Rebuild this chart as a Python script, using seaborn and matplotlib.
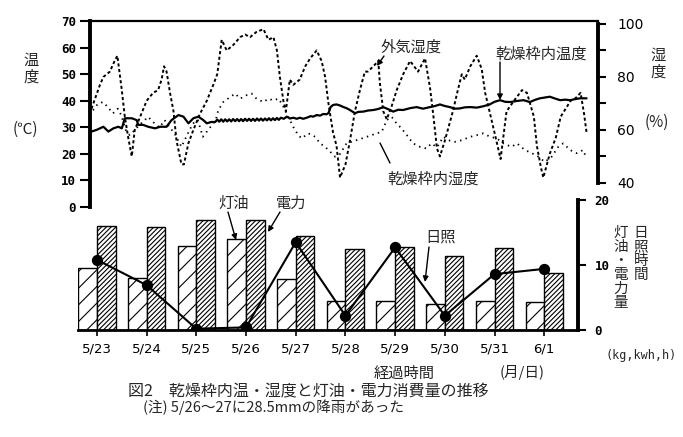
import matplotlib
matplotlib.use("Agg")
import matplotlib.pyplot as plt
import pandas as pd
import seaborn as sns

# ---------------- data ----------------
dates = ['5/23', '5/24', '5/25', '5/26', '5/27', '5/28', '5/29', '5/30', '5/31', '6/1']
kerosene = [9.6, 8.0, 12.9, 14.0, 7.8, 4.4, 4.4, 4.0, 4.4, 4.3]       # 灯油 (kg)
electric = [16.0, 15.9, 16.9, 16.9, 14.5, 12.4, 12.7, 11.4, 12.6, 8.8]  # 電力 (kWh)
sunshine = [10.8, 6.9, 0.2, 0.4, 13.5, 2.2, 12.7, 2.2, 8.6, 9.4]        # 日照 (h)

# outside humidity (%) ; time in days from 5/23
out_hum_day = [-0.11, 0.06, 0.13, 0.26, 0.33, 0.41, 0.50, 0.56, 0.63, 0.70, 0.76, 0.87, 1.00, 1.13, 1.23,
               1.30, 1.35, 1.40, 1.47, 1.54, 1.60, 1.70, 1.75, 1.84, 1.94, 2.07, 2.21, 2.34, 2.42, 2.51,
               2.61, 2.74, 2.88, 2.98, 3.08, 3.21, 3.35, 3.45, 3.55, 3.62, 3.68, 3.75, 3.80, 3.88, 3.95,
               4.08, 4.19, 4.29, 4.42, 4.52, 4.59, 4.65, 4.69, 4.75, 4.82, 4.89, 5.00, 5.09, 5.19, 5.29,
               5.39, 5.45, 5.56, 5.66, 5.69, 5.76, 5.83, 5.93, 6.03, 6.16, 6.30, 6.46, 6.60, 6.70, 6.77,
               6.84, 6.90, 7.00, 7.16, 7.26, 7.34, 7.40, 7.51, 7.64, 7.74, 7.81, 7.91, 8.01, 8.12, 8.24,
               8.39, 8.55, 8.65, 8.79, 8.85, 8.93, 8.98, 9.11, 9.23, 9.33, 9.43, 9.53, 9.63, 9.73, 9.80,
               9.85]
out_hum = [68, 77, 80, 82, 85, 88, 75, 65, 57, 50, 60, 65, 71, 74, 75,
           79, 84, 82, 74, 67, 56, 47, 47, 55, 60, 66, 71, 77, 81, 94,
           90, 92, 95, 96, 95, 97, 98, 94, 95, 90, 80, 71, 67, 79, 77,
           79, 84, 87, 90, 86, 80, 71, 66, 59, 54, 42, 47, 56, 67, 75,
           82, 82, 84, 86, 78, 67, 64, 69, 75, 81, 86, 82, 87, 76, 65,
           53, 50, 56, 67, 75, 81, 79, 84, 88, 83, 74, 66, 58, 49, 67,
           71, 75, 74, 65, 54, 46, 42, 51, 57, 65, 68, 71, 72, 74, 66,
           59]

# temperature inside the drying frame (°C)
in_temp_day = [-0.11, -0.01, 0.13, 0.23, 0.33, 0.43, 0.50, 0.56, 0.70, 0.80, 0.83, 0.93, 1.03, 1.17, 1.27,
               1.40, 1.50, 1.64, 1.74, 1.84, 1.94, 2.04, 2.14, 2.21, 2.30,
               2.38, 2.42, 2.46, 2.50, 2.54, 2.58, 2.62, 2.66, 2.70, 2.74, 2.78, 2.82, 2.86, 2.90, 2.94,
               2.98, 3.02, 3.06, 3.10, 3.14, 3.18, 3.22, 3.26, 3.30, 3.34, 3.38, 3.42, 3.46, 3.50, 3.54,
               3.58, 3.62, 3.66, 3.70,
               3.76, 3.82, 3.88, 3.95, 4.02, 4.08, 4.15, 4.22, 4.30, 4.35, 4.42, 4.49, 4.55, 4.62, 4.66,
               4.70, 4.75, 4.82, 4.89, 4.96, 5.02, 5.09, 5.19, 5.26, 5.36, 5.45, 5.56, 5.66, 5.76, 5.86,
               5.96, 6.06, 6.16, 6.30, 6.43, 6.56, 6.70, 6.80, 6.90, 7.00, 7.10, 7.20, 7.30, 7.40, 7.51,
               7.64, 7.77, 7.90, 8.00, 8.11, 8.21, 8.31, 8.45, 8.58, 8.71, 8.81, 8.91, 9.01, 9.11, 9.22,
               9.32, 9.42, 9.52, 9.62, 9.72, 9.85]
in_temp = [28.4, 29.0, 30.2, 28.4, 29.6, 30.2, 29.6, 33.4, 33.4, 32.7, 30.9, 30.9, 30.2, 29.6, 30.2,
           30.2, 32.7, 34.6, 34.0, 31.5, 33.4, 34.0, 32.7, 31.5, 32.0,
           32.0, 32.9, 32.1, 33.0, 32.1, 33.0, 32.2, 33.0, 32.2, 33.1, 32.3, 33.1, 32.3, 33.1, 32.3,
           33.2, 32.4, 33.2, 32.4, 33.2, 32.4, 33.3, 32.5, 33.3, 32.5, 33.3, 32.6, 33.4, 32.6, 33.4,
           32.7, 33.5, 32.8, 33.6,
           33.2, 34.0, 33.3, 33.6, 33.2, 33.6, 33.2, 33.6, 34.2, 34.0, 34.6, 34.4, 35.0, 34.9, 35.4,
           37.6, 38.4, 38.6, 38.2, 37.6, 37.2, 36.5, 35.3, 35.8, 35.9, 36.3, 36.5, 36.9, 37.6, 36.8,
           35.9, 36.6, 36.5, 37.2, 37.6, 37.0, 37.6, 38.0, 38.6, 38.0, 37.6, 37.0, 37.1, 37.5, 37.6,
           37.4, 37.9, 38.6, 39.6, 40.2, 39.6, 39.5, 39.9, 40.2, 39.5, 40.3, 40.9, 41.2, 41.5, 40.8,
           40.2, 40.4, 40.2, 40.6, 40.9, 40.9]

# humidity inside the drying frame (%)
in_hum_day = [-0.08, 0.02, 0.12, 0.22, 0.32, 0.42, 0.49, 0.58, 0.66, 0.89, 1.03, 1.16, 1.26, 1.36, 1.46,
              1.56, 1.70, 1.83, 1.93, 2.03, 2.13, 2.39, 2.44, 2.54, 2.68, 2.78, 2.88, 3.01, 3.11, 3.21,
              3.35, 3.45, 3.55, 3.65, 3.72, 3.85, 3.95, 4.05, 4.12, 4.25, 4.39, 4.49, 4.59, 4.69, 4.79,
              4.89, 5.02, 5.22, 5.43, 5.63, 5.73, 5.83, 5.93, 6.03, 6.13, 6.26, 6.36, 6.50, 6.63, 6.73,
              6.84, 6.97, 7.07, 7.20, 7.34, 7.51, 7.64, 7.77, 7.91, 8.04, 8.18, 8.34, 8.45, 8.61, 8.75,
              8.88, 9.01, 9.15, 9.28, 9.38, 9.52, 9.65, 9.78, 9.85]
in_hum = [67.4, 69.9, 70.5, 68.6, 66.2, 68.0, 65.5, 59.9, 58.0, 62.5, 64.9, 62.4, 60.9, 63.7, 61.1,
          58.7, 53.6, 58.7, 62.4, 63.7, 57.4, 63.7, 67.4, 70.5, 72.4, 73.7, 71.8, 73.1, 73.7, 71.8,
          70.5, 71.8, 71.1, 71.8, 69.9, 64.9, 61.1, 58.0, 56.8, 58.7, 57.4, 54.9, 53.6, 51.8, 49.9,
          50.9, 54.9, 56.1, 57.4, 58.7, 59.3, 63.7, 64.9, 62.4, 60.5, 57.4, 54.9, 53.6, 53.0, 54.9,
          53.4, 57.4, 56.1, 55.5, 56.1, 57.4, 58.0, 58.7, 57.4, 56.8, 54.9, 53.6, 54.9, 52.4, 51.2,
          49.9, 47.9, 49.9, 53.6, 54.9, 52.4, 51.2, 52.4, 49.3]

temp_ticks = [0, 10, 20, 30, 40, 50, 60, 70]
hum_ticks = [40, 50, 60, 70, 80, 90, 100]
hum_labels = ['40', '', '60', '', '80', '', '100']
bottom_ticks = [0, 10, 20]

# ---------------- style ----------------
sns.set_theme(style="white")
plt.rcParams['font.family'] = ['Noto Sans CJK JP', 'DejaVu Sans']
plt.rcParams['hatch.linewidth'] = 0.8
plt.rcParams['hatch.color'] = 'black'
MONO = ['DejaVu Sans Mono']

W, H = 683, 437
fig = plt.figure(figsize=(W / 100, H / 100), dpi=100)
fig.patch.set_facecolor('white')


def P(x, y):
    return (x, H - y)


def T(x, y, s, **kw):
    kw.setdefault('ha', 'center')
    kw.setdefault('va', 'center')
    kw.setdefault('fontsize', 11)
    fig.text(x / W, 1 - y / H, s, **kw)


# ---------------- top panel ----------------
ax = fig.add_axes([90 / W, 1 - 207 / H, 508 / W, 186 / H])
ax.patch.set_alpha(0)
ax2 = ax.twinx()
ax2.patch.set_alpha(0)

sns.lineplot(x=in_temp_day, y=in_temp, ax=ax, color='black', linewidth=1.6,
             estimator=None, sort=False)
sns.lineplot(x=out_hum_day, y=out_hum, ax=ax2, color='black', linewidth=1.4,
             linestyle=(0, (1.6, 1.3)), estimator=None, sort=False)
sns.lineplot(x=in_hum_day, y=in_hum, ax=ax2, color='black', linewidth=1.3,
             linestyle=(0, (0.8, 2.4)), estimator=None, sort=False)

ax.set_xlim(-0.14, 10.08)
ax2.set_xlim(-0.14, 10.08)
ax.set_ylim(0, 70)
ax2.set_ylim(30.9, 101.1)
ax.set_xticks([])
ax.set_yticks(temp_ticks)
ax.set_yticklabels([str(t) for t in temp_ticks], fontfamily=MONO, fontweight='bold', fontsize=9)
ax.tick_params(axis='y', direction='out', length=7, width=1.5, pad=3, colors='black', left=True)
ax2.set_yticks(hum_ticks)
ax2.set_yticklabels(hum_labels, fontfamily=['DejaVu Sans'], fontsize=10)
ax2.tick_params(axis='y', direction='out', length=6, width=1.5, pad=8, colors='black', right=True)
ax.set_xlabel('')
ax.set_ylabel('')
ax2.set_ylabel('')

for s in ['bottom', 'right']:
    ax.spines[s].set_visible(False)
ax.spines['left'].set_linewidth(2.8)
ax.spines['top'].set_linewidth(1.6)
for s in ['left', 'bottom', 'top']:
    ax2.spines[s].set_visible(False)
ax2.spines['right'].set_linewidth(2.8)
ax2.spines['right'].set_bounds(40, 100)
for sp in list(ax.spines.values()) + list(ax2.spines.values()):
    sp.set_color('black')

# ---------------- bottom panel ----------------
axb = fig.add_axes([78 / W, 1 - 330 / H, 500 / W, 130 / H])
axb.patch.set_alpha(0)
df = pd.DataFrame({'date': dates * 2,
                   'kind': ['灯油'] * len(dates) + ['電力'] * len(dates),
                   'value': kerosene + electric})
sns.barplot(data=df, x='date', y='value', hue='kind', hue_order=['灯油', '電力'], order=dates,
            ax=axb, width=0.75, palette=['white', 'white'], saturation=1,
            edgecolor='black', linewidth=1.0, legend=False)
for cont, hatch in zip(axb.containers, ['//', '///////']):
    for p in cont:
        p.set_hatch(hatch)
        p.set_facecolor('white')
        p.set_edgecolor('black')
        p.set_linewidth(1.0)

sns.pointplot(x=dates, y=sunshine, order=dates, ax=axb, color='black', markers='o',
              markersize=7, linewidth=1.5, errorbar=None)

axb.set_xlim(-0.38, 9.68)
axb.set_ylim(0, 20)
axb.yaxis.tick_right()
axb.set_yticks(bottom_ticks)
axb.set_yticklabels([str(t) for t in bottom_ticks], fontfamily=MONO, fontweight='bold', fontsize=9)
axb.tick_params(axis='y', direction='out', length=6, width=1.5, pad=6, colors='black', right=True)
axb.tick_params(axis='x', direction='out', length=4, width=1.2, pad=5, colors='black',
                bottom=True, labelsize=9.5)
for lab in axb.get_xticklabels():
    lab.set_fontfamily(['DejaVu Sans'])
axb.set_xlabel('')
axb.set_ylabel('')
for s in ['left', 'top']:
    axb.spines[s].set_visible(False)
axb.spines['bottom'].set_linewidth(2.0)
axb.spines['right'].set_linewidth(2.8)
axb.spines['bottom'].set_color('black')
axb.spines['right'].set_color('black')

# ---------------- texts ----------------
T(31, 69, '温\n度', linespacing=1.0)
T(25, 129, '(℃)')
T(658, 64, '湿\n度', linespacing=1.0)
T(657, 122, '(%)')

T(411, 47, '外気湿度')
T(541, 54, '乾燥枠内温度')
T(433, 179, '乾燥枠内湿度')
T(234, 203, '灯油')
T(291, 203, '電力')
T(441, 237, '日照')

T(641, 254, '日\n照\n時\n間', linespacing=1.0, fontsize=10.5)
T(621, 268, '灯\n油\n・\n電\n力\n量', linespacing=1.0, fontsize=10.5)
T(641, 355, '(kg,kwh,h)', fontfamily=MONO, fontsize=8.5)

T(404, 373, '経過時間')
T(522, 373, '(月/日)', fontsize=10.5)
T(128, 392, '図2　乾燥枠内温・湿度と灯油・電力消費量の推移', ha='left', fontsize=11.5)
T(143, 407, '(注) 5/26～27に28.5mmの降雨があった', ha='left', fontsize=10.5)

arrow = dict(arrowstyle='-|>', color='black', lw=1.0, mutation_scale=8, shrinkA=0, shrinkB=0)
line = dict(arrowstyle='-', color='black', lw=1.0, shrinkA=0, shrinkB=0)
for (x1, y1), (x2, y2), props in [
        ((384, 56), (377, 66), arrow),
        ((500, 62), (500, 100), arrow),
        ((380, 143), (390, 163), line),
        ((228, 212), (236, 240), arrow),
        ((280, 212), (268, 232), arrow),
        ((429, 247), (425, 282), arrow)]:
    ax.annotate('', xy=P(x2, y2), xytext=P(x1, y1), xycoords='figure pixels',
                textcoords='figure pixels', arrowprops=props, annotation_clip=False)

fig.savefig('out.png', dpi=100, facecolor='white')
